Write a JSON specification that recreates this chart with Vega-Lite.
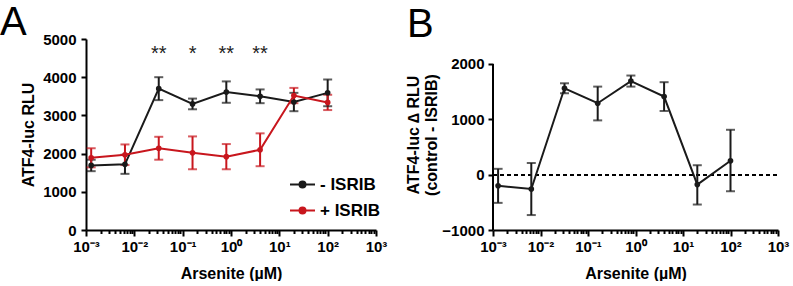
{
  "$schema": "https://vega.github.io/schema/vega-lite/v6.json",
  "background": "white",
  "padding": {"left": 0, "top": 3, "right": 5, "bottom": 0},
  "config": {
    "view": {"stroke": null},
    "font": "Liberation Sans",
    "title": {"font": "Liberation Sans", "fontSize": 40, "fontWeight": "normal", "color": "black", "anchor": "start", "frame": "group"}
  },
  "datasets": {
    "panelA": [
      {"conc": 0.00128, "group": "- ISRIB", "mean": 1690, "lo": 1540, "hi": 1840},
      {"conc": 0.0064, "group": "- ISRIB", "mean": 1720, "lo": 1470, "hi": 1970},
      {"conc": 0.032, "group": "- ISRIB", "mean": 3700, "lo": 3400, "hi": 4000},
      {"conc": 0.16, "group": "- ISRIB", "mean": 3300, "lo": 3160, "hi": 3440},
      {"conc": 0.8, "group": "- ISRIB", "mean": 3610, "lo": 3330, "hi": 3890},
      {"conc": 4, "group": "- ISRIB", "mean": 3500, "lo": 3320, "hi": 3680},
      {"conc": 20, "group": "- ISRIB", "mean": 3350, "lo": 3110, "hi": 3590},
      {"conc": 100, "group": "- ISRIB", "mean": 3590, "lo": 3240, "hi": 3940},
      {"conc": 0.00128, "group": "+ ISRIB", "mean": 1890, "lo": 1640, "hi": 2140},
      {"conc": 0.0064, "group": "+ ISRIB", "mean": 1970, "lo": 1700, "hi": 2240},
      {"conc": 0.032, "group": "+ ISRIB", "mean": 2140, "lo": 1840, "hi": 2440},
      {"conc": 0.16, "group": "+ ISRIB", "mean": 2020, "lo": 1590, "hi": 2450},
      {"conc": 0.8, "group": "+ ISRIB", "mean": 1920, "lo": 1590, "hi": 2250},
      {"conc": 4, "group": "+ ISRIB", "mean": 2100, "lo": 1670, "hi": 2530},
      {"conc": 20, "group": "+ ISRIB", "mean": 3520, "lo": 3320, "hi": 3720},
      {"conc": 100, "group": "+ ISRIB", "mean": 3340, "lo": 3140, "hi": 3540}
    ],
    "stars": [
      {"conc": 0.032, "label": "**"},
      {"conc": 0.16, "label": "*"},
      {"conc": 0.8, "label": "**"},
      {"conc": 4, "label": "**"}
    ],
    "panelB": [
      {"conc": 0.00128, "mean": -200, "lo": -510, "hi": 105},
      {"conc": 0.0064, "mean": -260, "lo": -730, "hi": 210},
      {"conc": 0.032, "mean": 1560, "lo": 1470, "hi": 1650},
      {"conc": 0.16, "mean": 1290, "lo": 980, "hi": 1590},
      {"conc": 0.8, "mean": 1690, "lo": 1590, "hi": 1790},
      {"conc": 4, "mean": 1410, "lo": 1150, "hi": 1670},
      {"conc": 20, "mean": -180, "lo": -540, "hi": 170},
      {"conc": 100, "mean": 250, "lo": -300, "hi": 810}
    ]
  },
  "spacing": 18,
  "hconcat": [
    {
      "width": 290, "height": 191,
      "title": {"text": "A", "dx": -86, "offset": -11},
      "layer": [
        {
          "data": {"name": "panelA"},
          "encoding": {
            "x": {
              "field": "conc", "type": "quantitative",
              "scale": {"type": "log", "domain": [0.001, 1000], "nice": false},
              "axis": {
                "title": "Arsenite (µM)", "grid": false,
                "values": [0.001,0.002,0.003,0.004,0.005,0.006,0.007,0.008,0.009,0.01,0.02,0.03,0.04,0.05,0.06,0.07,0.08,0.09,0.1,0.2,0.3,0.4,0.5,0.6,0.7,0.8,0.9,1,2,3,4,5,6,7,8,9,10,20,30,40,50,60,70,80,90,100,200,300,400,500,600,700,800,900,1000],
                "labelExpr": "abs(log(datum.value)/LN10 - round(log(datum.value)/LN10)) > 0.001 ? '' : ['10⁻³','10⁻²','10⁻¹','10⁰','10¹','10²','10³'][round(log(datum.value)/LN10)+3]",
                "tickSize": {"condition": {"test": "abs(log(datum.value)/LN10 - round(log(datum.value)/LN10)) < 0.001", "value": 6}, "value": 3.5},
                "labelOverlap": false, "labelFlush": false, "labelBound": false,
                "domainColor": "black", "domainWidth": 2, "tickColor": "black", "tickWidth": 2,
                "labelFont": "Liberation Sans", "labelFontWeight": "bold", "labelFontSize": 15, "labelColor": "black", "labelPadding": 3,
                "titleFont": "Liberation Sans", "titleFontWeight": "bold", "titleFontSize": 16, "titleColor": "black", "titlePadding": 11
              }
            },
            "y": {
              "field": "mean", "type": "quantitative",
              "scale": {"domain": [0, 5000], "nice": false},
              "axis": {
                "title": "ATF4-luc RLU", "grid": false, "values": [0,1000,2000,3000,4000,5000], "format": "d",
                "labelOverlap": false, "tickSize": 5,
                "domainColor": "black", "domainWidth": 2, "tickColor": "black", "tickWidth": 2,
                "labelFont": "Liberation Sans", "labelFontWeight": "bold", "labelFontSize": 15, "labelColor": "black", "labelPadding": 5,
                "titleFont": "Liberation Sans", "titleFontWeight": "bold", "titleFontSize": 16, "titleColor": "black", "titlePadding": 6
              }
            },
            "color": {
              "field": "group", "type": "nominal",
              "scale": {"domain": ["- ISRIB", "+ ISRIB"], "range": ["#1a1a1a", "#c8161d"]},
              "legend": {
                "title": null, "orient": "none", "legendX": 203, "legendY": 132, "padding": 0,
                "symbolType": "M-1,0H1M-0.24,0A0.24,0.24,0,1,0,0.24,0A0.24,0.24,0,1,0,-0.24,0Z",
                "symbolSize": 625, "symbolStrokeWidth": 2,
                "labelFont": "Liberation Sans", "labelFontSize": 17, "labelFontWeight": "bold", "labelColor": "black",
                "labelOffset": 4, "rowPadding": 4,
                "encode": {
                  "symbols": {"update": {
                    "fill": {"signal": "datum.value == '- ISRIB' ? '#1a1a1a' : '#c8161d'"},
                    "stroke": {"signal": "datum.value == '- ISRIB' ? '#1a1a1a' : '#c8161d'"},
                    "opacity": {"value": 1}
                  }}
                }
              }
            }
          },
          "layer": [
            {
              "mark": {"type": "rule", "strokeWidth": 2},
              "encoding": {
                "y": {"field": "lo", "type": "quantitative"},
                "y2": {"field": "hi"}
              }
            },
            {
              "mark": {"type": "tick", "orient": "horizontal", "size": 9, "thickness": 2},
              "encoding": {"y": {"field": "lo", "type": "quantitative"}}
            },
            {
              "mark": {"type": "tick", "orient": "horizontal", "size": 9, "thickness": 2},
              "encoding": {"y": {"field": "hi", "type": "quantitative"}}
            },
            {
              "mark": {"type": "line", "strokeWidth": 2},
              "encoding": {}
            },
            {
              "mark": {"type": "point", "filled": true, "size": 32, "opacity": 1},
              "encoding": {}
            }
          ]
        },
        {
          "data": {"name": "stars"},
          "mark": {"type": "text", "fontSize": 20, "font": "Liberation Sans", "color": "#222222", "baseline": "middle"},
          "encoding": {
            "x": {
              "field": "conc", "type": "quantitative",
              "scale": {"type": "log", "domain": [0.001, 1000], "nice": false},
              "axis": {
                "title": "Arsenite (µM)", "grid": false,
                "values": [0.001,0.002,0.003,0.004,0.005,0.006,0.007,0.008,0.009,0.01,0.02,0.03,0.04,0.05,0.06,0.07,0.08,0.09,0.1,0.2,0.3,0.4,0.5,0.6,0.7,0.8,0.9,1,2,3,4,5,6,7,8,9,10,20,30,40,50,60,70,80,90,100,200,300,400,500,600,700,800,900,1000],
                "labelExpr": "abs(log(datum.value)/LN10 - round(log(datum.value)/LN10)) > 0.001 ? '' : ['10⁻³','10⁻²','10⁻¹','10⁰','10¹','10²','10³'][round(log(datum.value)/LN10)+3]",
                "tickSize": {"condition": {"test": "abs(log(datum.value)/LN10 - round(log(datum.value)/LN10)) < 0.001", "value": 6}, "value": 3.5},
                "labelOverlap": false, "labelFlush": false, "labelBound": false,
                "domainColor": "black", "domainWidth": 2, "tickColor": "black", "tickWidth": 2,
                "labelFont": "Liberation Sans", "labelFontWeight": "bold", "labelFontSize": 15, "labelColor": "black", "labelPadding": 3,
                "titleFont": "Liberation Sans", "titleFontWeight": "bold", "titleFontSize": 16, "titleColor": "black", "titlePadding": 11
              }
            },
            "y": {
              "datum": 4620, "type": "quantitative",
              "scale": {"domain": [0, 5000], "nice": false},
              "axis": {
                "title": "ATF4-luc RLU", "grid": false, "values": [0,1000,2000,3000,4000,5000], "format": "d",
                "labelOverlap": false, "tickSize": 5,
                "domainColor": "black", "domainWidth": 2, "tickColor": "black", "tickWidth": 2,
                "labelFont": "Liberation Sans", "labelFontWeight": "bold", "labelFontSize": 15, "labelColor": "black", "labelPadding": 5,
                "titleFont": "Liberation Sans", "titleFontWeight": "bold", "titleFontSize": 16, "titleColor": "black", "titlePadding": 6
              }
            },
            "text": {"field": "label"}
          }
        }
      ]
    },
    {
      "width": 285, "height": 191,
      "title": {"text": "B", "dx": -86, "offset": -6},
      "data": {"name": "panelB"},
      "encoding": {
        "x": {
          "field": "conc", "type": "quantitative",
          "scale": {"type": "log", "domain": [0.001, 1000], "nice": false},
          "axis": {
            "title": "Arsenite (µM)", "grid": false,
            "values": [0.001,0.002,0.003,0.004,0.005,0.006,0.007,0.008,0.009,0.01,0.02,0.03,0.04,0.05,0.06,0.07,0.08,0.09,0.1,0.2,0.3,0.4,0.5,0.6,0.7,0.8,0.9,1,2,3,4,5,6,7,8,9,10,20,30,40,50,60,70,80,90,100,200,300,400,500,600,700,800,900,1000],
            "labelExpr": "abs(log(datum.value)/LN10 - round(log(datum.value)/LN10)) > 0.001 ? '' : ['10⁻³','10⁻²','10⁻¹','10⁰','10¹','10²','10³'][round(log(datum.value)/LN10)+3]",
            "tickSize": {"condition": {"test": "abs(log(datum.value)/LN10 - round(log(datum.value)/LN10)) < 0.001", "value": 6}, "value": 3.5},
            "labelOverlap": false, "labelFlush": false, "labelBound": false,
            "domainColor": "black", "domainWidth": 2, "tickColor": "black", "tickWidth": 2,
            "labelFont": "Liberation Sans", "labelFontWeight": "bold", "labelFontSize": 15, "labelColor": "black", "labelPadding": 3,
            "titleFont": "Liberation Sans", "titleFontWeight": "bold", "titleFontSize": 16, "titleColor": "black", "titlePadding": 11
          }
        },
        "y": {
          "field": "mean", "type": "quantitative",
          "scale": {"domain": [-1000, 2450], "nice": false},
          "axis": {
            "title": ["ATF4-luc ∆ RLU", "(control - ISRIB)"], "titleLineHeight": 18,
            "grid": false, "values": [-1000,0,1000,2000], "format": "d", "domain": false,
            "labelOverlap": false, "tickSize": 5,
            "tickColor": "black", "tickWidth": 2,
            "labelFont": "Liberation Sans", "labelFontWeight": "bold", "labelFontSize": 15, "labelColor": "black", "labelPadding": 4,
            "titleFont": "Liberation Sans", "titleFontWeight": "bold", "titleFontSize": 16, "titleColor": "black", "titlePadding": 2
          }
        }
      },
      "layer": [
        {
          "mark": {"type": "rule", "strokeWidth": 2, "color": "black"},
          "encoding": {"x": {"datum": 0.001}, "y": {"datum": -1000}, "y2": {"datum": 2000}}
        },
        {
          "mark": {"type": "rule", "strokeWidth": 1.5, "strokeDash": [4, 3], "color": "black"},
          "encoding": {"x": {"value": 0}, "x2": {"value": "width"}, "y": {"datum": 0}}
        },
        {
          "mark": {"type": "rule", "strokeWidth": 2, "color": "#1a1a1a"},
          "encoding": {
            "y": {"field": "lo", "type": "quantitative"},
            "y2": {"field": "hi"}
          }
        },
        {
          "mark": {"type": "tick", "orient": "horizontal", "size": 9, "thickness": 2, "color": "#1a1a1a"},
          "encoding": {"y": {"field": "lo", "type": "quantitative"}}
        },
        {
          "mark": {"type": "tick", "orient": "horizontal", "size": 9, "thickness": 2, "color": "#1a1a1a"},
          "encoding": {"y": {"field": "hi", "type": "quantitative"}}
        },
        {
          "mark": {"type": "line", "strokeWidth": 2, "color": "#1a1a1a"},
          "encoding": {}
        },
        {
          "mark": {"type": "point", "filled": true, "size": 32, "opacity": 1, "color": "#1a1a1a"},
          "encoding": {}
        }
      ]
    }
  ]
}
